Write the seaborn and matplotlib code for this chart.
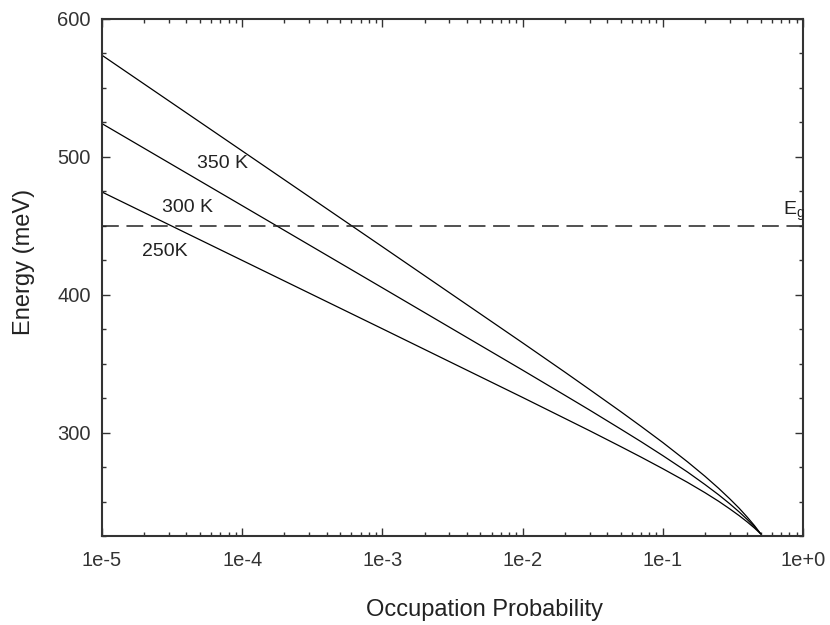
import numpy as np
import pandas as pd
import seaborn as sns
import matplotlib
matplotlib.use("Agg")
import matplotlib.pyplot as plt
from matplotlib.ticker import LogLocator, FixedLocator, MultipleLocator, FixedFormatter

# Occupation probability (x) and energy in meV (y) for each temperature
prob = [1e-5, 1e-4, 1e-3, 1e-2, 2e-2, 3e-2, 5e-2, 7e-2, 0.1, 0.15, 0.2, 0.25,
        0.3, 0.35, 0.4, 0.45, 0.5]
energy_350K = [573.7, 504.3, 434.8, 365.1, 343.9, 331.3, 315.3, 304.5, 292.8,
               278.8, 268.3, 259.6, 252.0, 245.2, 238.7, 232.6, 226.5]
energy_300K = [524.1, 464.6, 405.0, 345.3, 327.1, 316.4, 302.6, 293.4, 283.3,
               271.4, 262.3, 254.9, 248.4, 242.5, 237.0, 231.7, 226.5]
energy_250K = [474.5, 424.9, 375.3, 325.5, 310.3, 301.4, 289.9, 282.2, 273.8,
               263.9, 256.4, 250.2, 244.7, 239.8, 235.2, 230.8, 226.5]
curve_labels = ["350 K", "300 K", "250K"]

# Conduction band edge
e_gap = 450

x_ticks = [1e-5, 1e-4, 1e-3, 1e-2, 1e-1, 1e0]
x_tick_labels = ["1e-5", "1e-4", "1e-3", "1e-2", "1e-1", "1e+0"]
y_ticks = [300, 400, 500, 600]

frames = []
for lab, en in zip(curve_labels, [energy_350K, energy_300K, energy_250K]):
    frames.append(pd.DataFrame({"prob": prob, "energy": en, "T": lab}))
df = pd.concat(frames, ignore_index=True)

sns.set_theme(style="ticks")
plt.rcParams["font.family"] = ["Liberation Sans", "DejaVu Sans"]
plt.rcParams["mathtext.fontset"] = "custom"
plt.rcParams["mathtext.rm"] = "Liberation Sans"
plt.rcParams["mathtext.it"] = "Liberation Sans"

fig = plt.figure(figsize=(8.3, 6.25), dpi=100)
ax = fig.add_axes([0.1229, 0.1424, 0.8446, 0.8272])

sns.lineplot(data=df, x="prob", y="energy", hue="T", units="T", estimator=None,
             palette=["black"] * 3, linewidth=0.9, legend=False, ax=ax, sort=False)

ax.axhline(e_gap, color="#222222", linewidth=1.1, dashes=(11, 5))

ax.set_xscale("log")
ax.set_xlim(1e-5, 1e0)
ax.set_ylim(225, 600)

ax.xaxis.set_major_locator(FixedLocator(x_ticks))
ax.xaxis.set_major_formatter(FixedFormatter(x_tick_labels))
ax.xaxis.set_minor_locator(LogLocator(base=10, subs=np.arange(2, 10), numticks=20))
ax.yaxis.set_major_locator(FixedLocator(y_ticks))
ax.yaxis.set_minor_locator(MultipleLocator(25))

ax.tick_params(axis="both", which="both", direction="in", top=True, right=True,
               color="#333333")
ax.tick_params(axis="both", which="major", length=5.5, width=1.0,
               labelsize=14.5, labelcolor="#333333")
ax.tick_params(axis="x", which="major", pad=11)
ax.tick_params(axis="y", which="major", pad=8)
ax.tick_params(axis="both", which="minor", length=3, width=1.0)

for s in ax.spines.values():
    s.set_color("#333333")
    s.set_linewidth(1.5)

ax.set_xlabel("Occupation Probability", fontsize=17, color="#222222")
ax.set_ylabel("Energy (meV)", fontsize=17, color="#222222")
ax.xaxis.set_label_coords(0.546, -0.122)
ax.yaxis.set_label_coords(-0.095, 0.53)

# Curve annotations
txt_kw = dict(fontsize=14, color="#222222", ha="center", va="center")
ax.text(7.2e-5, 495, "350 K", **txt_kw)
ax.text(4.1e-5, 463, "300 K", **txt_kw)
ax.text(2.8e-5, 431, "250K", **txt_kw)
ax.text(0.72, 452, r"E$_g$", fontsize=14, color="#222222", ha="left", va="bottom",
        clip_on=False)

ax.set_facecolor("white")
fig.patch.set_facecolor("white")
fig.savefig("out.png", dpi=100)
